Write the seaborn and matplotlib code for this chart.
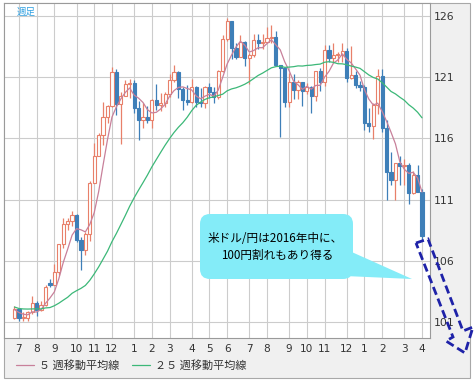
import numpy as np
import pandas as pd
import matplotlib
matplotlib.use('Agg')
import matplotlib.pyplot as plt
import seaborn as sns
from matplotlib.patches import FancyBboxPatch, Polygon, Rectangle
from matplotlib.transforms import Affine2D

# ---------------- data (weekly USD/JPY candles, week starting Monday) ----------------
first_week = '2014-06-30'
opens = [
    101.33, 102.07, 101.32, 101.34, 101.82, 102.58, 102.01, 102.36, 104.20, 104.00,
    105.08, 107.36, 109.00, 109.27, 109.76, 107.73, 106.89, 108.15, 112.32, 114.59,
    116.28, 117.76, 118.62, 121.44, 118.77, 119.49, 120.41, 120.49, 118.51, 117.54,
    117.73, 117.49, 119.14, 118.73, 118.93, 119.61, 120.78, 121.44, 120.05, 119.15,
    118.95, 120.20, 118.97, 118.92, 120.19, 119.75, 119.37, 121.53, 124.12, 125.60,
    123.39, 122.67, 123.87, 122.53, 122.81, 124.02, 123.80, 123.88, 124.21, 124.30,
    121.98, 121.73, 119.01, 120.59, 119.99, 120.58, 119.86, 120.23, 119.45, 121.50,
    120.63, 123.20, 122.60, 122.79, 122.82, 123.12, 120.94, 121.16, 120.36, 120.22,
    117.24, 117.03, 118.76, 121.13, 116.83, 113.23, 112.57, 113.98, 113.78, 113.83,
    111.54, 113.03, 111.64]
highs = [
    102.27, 102.10, 101.80, 101.90, 103.15, 102.74, 102.75, 104.06, 104.49, 105.71,
    107.39, 109.46, 109.46, 110.09, 109.84, 107.93, 108.37, 112.48, 115.60, 116.43,
    118.98, 118.75, 121.85, 121.69, 119.78, 120.80, 120.83, 120.78, 119.02, 118.86,
    118.66, 119.23, 120.48, 119.72, 119.80, 121.28, 122.03, 121.53, 120.20, 120.36,
    120.84, 120.25, 120.09, 120.28, 120.51, 120.21, 121.58, 124.46, 125.86, 125.61,
    123.82, 124.47, 123.97, 123.00, 124.49, 124.49, 124.54, 125.07, 125.28, 124.75,
    122.03, 121.75, 121.32, 121.28, 120.80, 120.63, 120.52, 120.28, 121.50, 121.75,
    123.59, 123.60, 123.77, 123.07, 123.76, 123.38, 123.55, 121.48, 120.70, 120.34,
    118.48, 118.88, 121.68, 121.70, 117.53, 114.87, 114.00, 114.59, 114.35, 114.00,
    113.33, 113.80, 111.84]
lows = [
    101.24, 101.07, 101.06, 101.07, 101.69, 101.51, 101.92, 102.32, 103.85, 103.98,
    104.80, 107.02, 108.53, 108.88, 107.50, 105.23, 106.51, 107.60, 112.32, 114.55,
    115.46, 117.24, 118.60, 117.90, 115.57, 119.45, 119.26, 118.05, 115.85, 116.87,
    117.27, 116.86, 118.35, 118.20, 118.56, 119.36, 120.63, 119.28, 118.33, 118.72,
    118.93, 118.54, 118.53, 118.52, 119.33, 118.87, 119.22, 121.46, 123.93, 122.46,
    122.46, 122.67, 121.93, 120.41, 122.68, 123.28, 123.32, 123.78, 123.78, 121.95,
    116.15, 118.60, 118.60, 119.25, 119.22, 118.68, 119.62, 118.07, 119.08, 119.88,
    120.26, 122.25, 122.23, 122.20, 122.23, 120.60, 120.88, 120.10, 119.91, 116.70,
    116.49, 115.97, 117.98, 116.54, 110.99, 112.15, 110.98, 112.21, 112.21, 110.67,
    111.48, 111.60, 107.67]
closes = [
    102.07, 101.32, 101.34, 101.82, 102.58, 102.01, 102.36, 103.83, 104.00, 105.08,
    107.36, 109.00, 109.27, 109.76, 107.73, 106.89, 108.15, 112.32, 114.59, 116.28,
    117.76, 118.62, 121.44, 118.77, 119.49, 120.41, 120.49, 118.51, 117.54, 117.73,
    117.49, 119.14, 118.73, 118.93, 119.61, 120.78, 121.44, 120.05, 119.15, 118.95,
    120.20, 118.97, 118.92, 120.19, 119.75, 119.37, 121.53, 124.12, 125.60, 123.39,
    122.67, 123.87, 122.53, 122.81, 124.02, 123.80, 123.88, 124.21, 124.30, 122.03,
    121.73, 119.01, 120.59, 119.99, 120.58, 119.86, 120.23, 119.45, 121.50, 120.63,
    123.20, 122.60, 122.79, 122.82, 123.12, 120.94, 121.16, 120.36, 120.22, 117.24,
    117.03, 118.76, 121.13, 116.83, 113.23, 112.57, 113.98, 113.78, 113.83, 111.54,
    113.03, 111.64, 108.05]
# closes of the 24 weeks before the chart (only used for the moving averages)
pre_closes = [
    104.33, 102.30, 102.04, 102.30, 101.80, 102.54, 101.80, 103.28, 101.33, 102.24,
    102.83, 103.29, 101.61, 102.43, 102.16, 102.16, 101.84, 101.50, 101.97, 101.79,
    102.45, 102.06, 102.04, 101.38]
y_ticks = [101, 106, 111, 116, 121, 126]
ma_labels = ['５ 週移動平均線', '２５ 週移動平均線']
period_label = '週足'
callout_lines = ['米ドル/円は2016年中に、', '100円割れもあり得る']

# ---------------- style ----------------
sns.set_style('white')
plt.rcParams['font.family'] = ['Noto Sans CJK JP', 'DejaVu Sans']

UP = '#e8806a'
DOWN = '#3e7fb8'
MA5_C = '#c8809a'
MA25_C = '#3cb878'

W, H = 476, 384
fig = plt.figure(figsize=(W / 100, H / 100), dpi=100, facecolor='white')
P = Affine2D().scale(1 / 100, -1 / 100).translate(0, H / 100) + fig.dpi_scale_trans

def fx(px):
    return px / W

def fy(py):
    return 1 - py / H

# panel background
fig.add_artist(Rectangle((4, 3), 466, 375, transform=P, facecolor='#f0f0f0',
                         edgecolor='#a8a8a8', lw=0.8, zorder=0))

ax = fig.add_axes([fx(4), fy(338), fx(430) - fx(4), fy(3) - fy(338)])
ax.set_facecolor('white')

n = len(closes)
x = np.arange(n)
o = np.array(opens); c = np.array(closes)
hi = np.array(highs); lo = np.array(lows)
up = c >= o
cols = np.where(up, UP, DOWN)

# moving averages
allc = pd.Series(pre_closes + closes)
ma5 = allc.rolling(5).mean().iloc[len(pre_closes):].to_numpy()
ma25 = allc.rolling(25).mean().iloc[len(pre_closes):].to_numpy()
df = pd.DataFrame({'x': x, 'ma5': ma5, 'ma25': ma25})

# candles
ax.vlines(x, lo, hi, colors=cols, lw=0.9, zorder=2)
body_b = np.minimum(o, c)
body_h = np.maximum(np.abs(c - o), 0.07)
ax.bar(x, body_h, bottom=body_b, width=0.72, color=np.where(up, 'white', DOWN),
       edgecolor=cols, linewidth=0.8, zorder=3)

sns.lineplot(data=df, x='x', y='ma5', ax=ax, color=MA5_C, lw=0.9,
             label=ma_labels[0], zorder=4)
sns.lineplot(data=df, x='x', y='ma25', ax=ax, color=MA25_C, lw=0.9,
             label=ma_labels[1], zorder=4)

# axes
dates = pd.date_range(first_week, periods=n, freq='7D')
tick_pos = [i for i in range(1, n) if dates[i].month != dates[i - 1].month]
tick_lab = [str(dates[i].month) for i in tick_pos]
ax.set_xticks(tick_pos)
ax.set_xticklabels(tick_lab)
ax.set_yticks(y_ticks)
ax.set_yticklabels([str(v) for v in y_ticks])
ax.yaxis.tick_right()
ax.set_xlim(-2.37, 93.8)
ax.set_ylim(99.69, 127.06)
ax.set_xlabel('')
ax.set_ylabel('')
ax.grid(True, color='#cccccc', lw=0.8)
ax.set_axisbelow(True)
ax.tick_params(axis='y', length=0, pad=3, labelsize=7.8, labelcolor='#333333')
ax.tick_params(axis='x', length=0, pad=4, labelsize=7.6, labelcolor='#333333')
for lbl in ax.get_xticklabels() + ax.get_yticklabels():
    lbl.set_fontfamily('DejaVu Sans')
for s in ax.spines.values():
    s.set_color('#9a9a9a')
    s.set_linewidth(0.8)

leg = ax.legend(loc='center left', bbox_to_anchor=(fx(16), fy(365)),
                bbox_transform=fig.transFigure, ncol=2, frameon=False,
                fontsize=8.0, handlelength=1.6, handletextpad=0.5,
                columnspacing=1.1, borderaxespad=0, borderpad=0)
for t in leg.get_texts():
    t.set_color('#333333')

fig.text(17, 12, period_label, transform=P, color='#2e9fe0', fontsize=6.8,
         ha='left', va='center')

# callout
fig.add_artist(FancyBboxPatch((200, 214), 153, 65, boxstyle='round,pad=0,rounding_size=10',
                              transform=P, fc='#84ecf8', ec='none', zorder=10))
fig.add_artist(Polygon([(345, 249), (412, 279), (345, 276)], closed=True,
                       transform=P, fc='#84ecf8', ec='none', zorder=10))
fig.text(275, 238, callout_lines[0], transform=P, ha='center', va='center',
         fontsize=8.4, color='black', zorder=11)
fig.text(277, 256, callout_lines[1], transform=P, ha='center', va='center',
         fontsize=8.4, color='black', zorder=11)

# dashed arrow
arrow_pts = [(416, 243), (428, 239), (463, 331), (473, 327), (465, 353),
             (446, 341), (453, 337)]
fig.add_artist(Polygon(arrow_pts, closed=True, fill=False, ec='#1e22a8', lw=2,
                       linestyle=(0, (3, 1.5)), joinstyle='miter', transform=P,
                       zorder=12))

fig.savefig('out.png', dpi=100)
